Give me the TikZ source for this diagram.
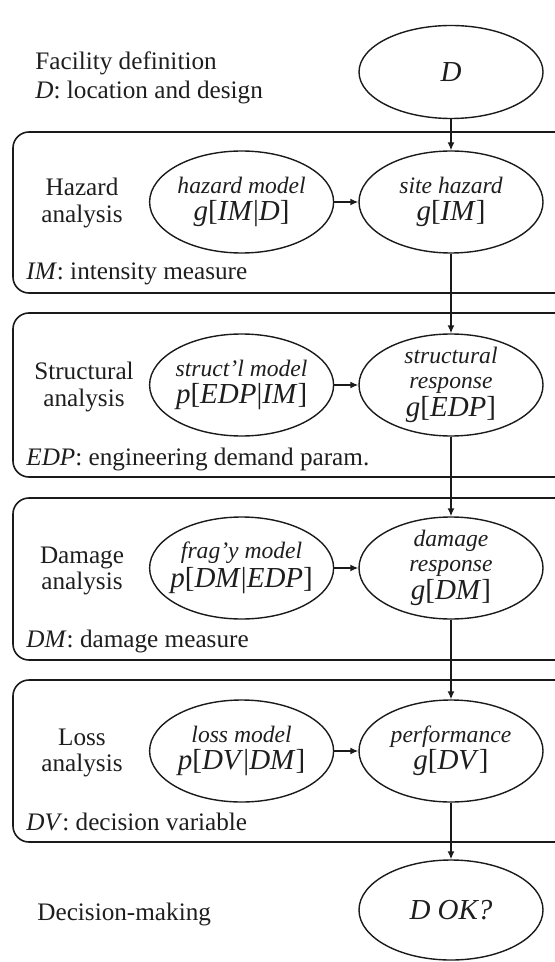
\documentclass[tikz,border=0pt]{standalone}
\usepackage{fontspec}
\setmainfont{Liberation Serif}
\usepackage{xcolor}
\definecolor{cLine}{HTML}{1A1A1A}
\definecolor{cText}{HTML}{1E1E1E}
\usepackage{tikz}
\usetikzlibrary{positioning,arrows.meta,shapes.geometric}
\tikzset{
  node-model/.style={draw=cLine,line width=0.7pt,ellipse,
    minimum width=92pt,minimum height=51pt,inner sep=0pt},
  node-txt/.style={align=center,text=cText,inner sep=0pt,
    font=\fontsize{11.8}{12.6}\selectfont\itshape},
  node-stage/.style={align=center,text=cText,inner sep=0pt,
    font=\fontsize{12.6}{13.2}\selectfont},
  node-note/.style={anchor=west,text=cText,inner sep=0pt,
    font=\fontsize{12.6}{14.2}\selectfont},
  stage-box/.style={draw=cLine,line width=0.8pt,rounded corners=8pt},
  arrow/.style={-{Latex[length=4pt,width=3.5pt]},line width=0.7pt,draw=cLine},
}
\newcommand{\pdist}[1]{{\fontsize{14.5}{14.5}\selectfont\upshape #1}}

\begin{document}
\begin{tikzpicture}[x=0.5pt,y=-0.5pt]
  \useasboundingbox (0,0) rectangle (555,962);
  % stage frames (right side runs off the page)
  \draw[stage-box] (13,132) rectangle (572,293);
  \draw[stage-box] (13,313) rectangle (572,477);
  \draw[stage-box] (13,498) rectangle (572,660);
  \draw[stage-box] (13,680) rectangle (572,842);

  % main column
  \node[node-model,minimum height=46.5pt,
    label={[node-txt]center:{\pdist{\textit{D}}}}] (fac) at (451,72) {};
  \node[node-model,label={[node-txt]center:{site hazard\\[1pt]
    \pdist{\textit{g}[\textit{IM}]}}}] (site) at (451,202) {};
  \node[node-model,label={[node-txt]center:{structural\\response\\[1.5pt]
    \pdist{\textit{g}[\textit{EDP}]}}}] (resp) at (451,385) {};
  \node[node-model,label={[node-txt]center:{damage\\response\\[1.5pt]
    \pdist{\textit{g}[\textit{DM}]}}}] (dmg) at (451,568) {};
  \node[node-model,label={[node-txt]center:{performance\\[1pt]
    \pdist{\textit{g}[\textit{DV}]}}}] (perf) at (451,751) {};
  \node[node-model,minimum height=50pt,
    label={[node-txt]center:{\pdist{\textit{D OK?}}}}] (ok) at (451,910) {};

  % models
  \node[node-model,left=12pt of site,label={[node-txt]center:{hazard model\\[1pt]
    \pdist{\textit{g}[\textit{IM}|\textit{D}]}}}] (hazmod) {};
  \node[node-model,left=12pt of resp,label={[node-txt]center:{struct'l model\\[1pt]
    \pdist{\textit{p}[\textit{EDP}|\textit{IM}]}}}] (strmod) {};
  \node[node-model,left=12pt of dmg,label={[node-txt]center:{frag'y model\\[1pt]
    \pdist{\textit{p}[\textit{DM}|\textit{EDP}]}}}] (fragmod) {};
  \node[node-model,left=12pt of perf,label={[node-txt]center:{loss model\\[1pt]
    \pdist{\textit{p}[\textit{DV}|\textit{DM}]}}}] (lossmod) {};

  % stage names
  \node[node-note,align=left] (facdef) at (35,78)
    {Facility definition\\\textit{D}: location and design};
  \node[node-stage] (haz) at (82,203) {Hazard\\analysis};
  \node[node-stage] (str) at (84,387) {Structural\\analysis};
  \node[node-stage] (dam) at (82,571) {Damage\\analysis};
  \node[node-stage] (los) at (82,753) {Loss\\analysis};
  \node[node-note] (dec) at (37,914) {Decision-making};

  % variable notes
  \node[node-note] (imnote) at (26,274) {\textit{IM}: intensity measure};
  \node[node-note] (edpnote) at (26,459) {\textit{EDP}: engineering demand param.};
  \node[node-note] (dmnote) at (26,641) {\textit{DM}: damage measure};
  \node[node-note] (dvnote) at (26,822) {\textit{DV}: decision variable};

  \draw[arrow] (fac) -- (site);
  \draw[arrow] (site) -- (resp);
  \draw[arrow] (resp) -- (dmg);
  \draw[arrow] (dmg) -- (perf);
  \draw[arrow] (perf) -- (ok);
  \draw[arrow] (hazmod) -- (site);
  \draw[arrow] (strmod) -- (resp);
  \draw[arrow] (fragmod) -- (dmg);
  \draw[arrow] (lossmod) -- (perf);
\end{tikzpicture}
\end{document}
